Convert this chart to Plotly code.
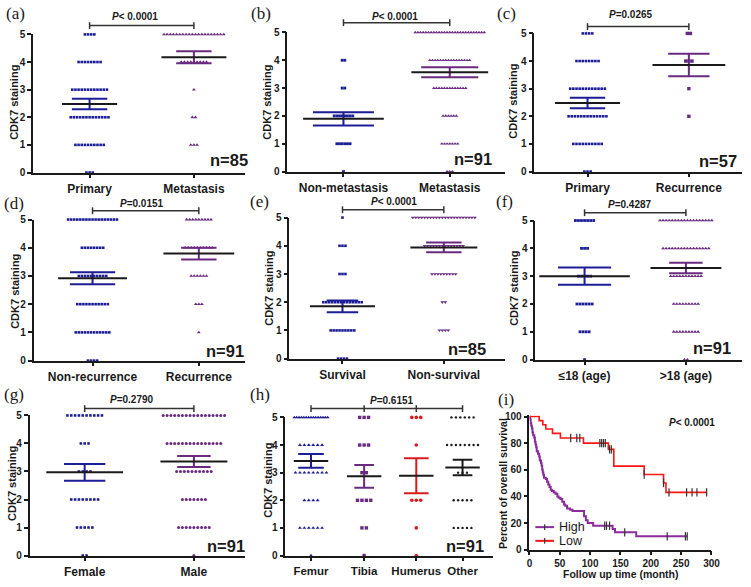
import numpy as np
import plotly.graph_objects as go

W, H = 751, 587

# ---------------- data ----------------
levels = [0, 1, 2, 3, 4, 5]   # CDK7 staining score

# number of cases at each staining score 0..5
a_primary = [3, 10, 13, 12, 8, 4]
a_metastasis = [0, 3, 2, 1, 9, 20]
b_nonmetastasis = [1, 6, 8, 2, 2, 0]
b_metastasis = [3, 7, 6, 13, 16, 27]
c_primary = [3, 10, 13, 12, 8, 4]
c_recurrence = [0, 0, 1, 1, 3, 2]
d_nonrecurrence = [4, 12, 11, 10, 8, 17]
d_recurrence = [0, 1, 3, 6, 10, 9]
e_survival = [4, 9, 14, 3, 3, 1]
e_nonsurvival = [0, 4, 2, 9, 14, 22]
f_le18 = [1, 4, 6, 5, 3, 7]
f_gt18 = [2, 9, 9, 11, 16, 18]
g_female = [2, 5, 8, 4, 3, 10]
g_male = [1, 9, 7, 10, 15, 17]
h_femur = [1, 6, 4, 8, 6, 15]
h_tibia = [1, 2, 4, 2, 3, 3]
h_humerus = [1, 1, 3, 0, 1, 3]
h_other = [0, 5, 5, 3, 8, 6]

p_values = ["<i>P</i>&lt; 0.0001", "<i>P</i>&lt; 0.0001", "<i>P</i>=0.0265",
            "<i>P</i>=0.0151", "<i>P</i>&lt; 0.0001", "<i>P</i>=0.4287",
            "<i>P</i>=0.2790", "<i>P</i>=0.6151"]
n_labels = ["n=85", "n=91", "n=57", "n=91", "n=85", "n=91", "n=91", "n=91"]

# Kaplan-Meier (i): step times (month) and percent survival
high_t = [0, 1, 2, 3, 4, 5, 6, 8, 9, 10, 11, 12, 14, 16, 17, 19, 20, 21, 22, 23, 24, 27, 29, 31,
          33, 35, 37, 40, 43, 46, 48, 51, 54, 57, 59, 62, 67, 71, 90, 93, 96, 105, 137, 141, 176, 260]
high_s = [100, 98, 95, 93, 91, 88, 86, 84, 81, 79, 77, 74, 72, 70, 67, 65, 63, 60, 58, 56, 54, 53, 51, 49,
          47, 45, 44, 43, 42, 40, 39, 38, 36, 34, 33, 31, 30, 29, 25, 22, 20, 18, 15.5, 13, 10, 10]
high_cens_t = [124, 127, 132, 157, 227, 257, 260]
high_cens_s = [18, 18, 18, 13, 10, 10, 10]
low_t = [0, 16, 22, 27, 38, 51, 89, 130, 139, 189, 221, 225, 292]
low_s = [100, 96.9, 93.8, 90.6, 87.3, 83.9, 80.0, 75.3, 62.7, 56.4, 50.1, 43.0, 43.0]
low_cens_t = [68, 78, 83, 116, 119, 122, 125, 132, 135, 189, 221, 230, 259, 268, 276, 292]
low_cens_s = [83.9, 83.9, 83.9, 80, 80, 80, 80, 75.3, 75.3, 56.4, 50.1, 43, 43, 43, 43, 43]

# ---------------- style ----------------
BLUE = "#1d1d95"
PURPLE = "#6a2a80"
RED = "#d91a1a"
DARK = "#1a1a1a"
SANS = "Liberation Sans"
SERIF = "Liberation Serif"

# geometry of each scatter panel, in pixels of the 751x587 figure
panels = [
    dict(lab="(a)", yax=30.5, xend=246, cats=[88, 194], y0=170, y5=29, by=20, pxy=(134, 11),
         lxy=(13, 8), nxy=(230, 157), txy=(11, 98), sp=3.2, maxw=70,
         groups=[("Primary", a_primary, BLUE, "square", 2.6, 28, 18),
                 ("Metastasis", a_metastasis, PURPLE, "triangle-up", 3.4, 33, 18)]),
    dict(lab="(b)", yax=289, xend=510, cats=[346, 454], y0=169, y5=27, by=17, pxy=(398, 11),
         lxy=(262, 8), nxy=(478, 156), txy=(268, 98), sp=2.7, maxw=72,
         groups=[("Non-metastasis", b_nonmetastasis, BLUE, "square", 2.8, 41, 31),
                 ("Metastasis", b_metastasis, PURPLE, "triangle-up", 3.2, 39, 29)]),
    dict(lab="(c)", yax=540, xend=751, cats=[594, 697], y0=169, y5=28, by=21, pxy=(638, 9),
         lxy=(512, 8), nxy=(727, 158), txy=(518, 97), sp=3.2, maxw=70,
         groups=[("Primary", c_primary, BLUE, "square", 2.6, 33, 18),
                 ("Recurrence", c_recurrence, PURPLE, "square", 3.4, 37, 21)]),
    dict(lab="(d)", yax=31, xend=246, cats=[91, 199], y0=362, y5=218, by=209, pxy=(141, 202),
         lxy=(11, 202), nxy=(226, 352), txy=(12, 291), sp=3.1, maxw=72,
         groups=[("Non-recurrence", d_nonrecurrence, BLUE, "square", 2.6, 35, 23),
                 ("Recurrence", d_recurrence, PURPLE, "triangle-up", 3.4, 36, 18)]),
    dict(lab="(e)", yax=291, xend=510, cats=[345, 448], y0=360, y5=216, by=208, pxy=(397, 200),
         lxy=(261, 200), nxy=(472, 350), txy=(270, 288), sp=3.0, maxw=70,
         groups=[("Survival", e_survival, BLUE, "square", 2.6, 33, 16),
                 ("Non-survival", e_nonsurvival, PURPLE, "triangle-down", 3.4, 34, 18)]),
    dict(lab="(f)", yax=541, xend=751, cats=[591, 694], y0=361, y5=219, by=211, pxy=(637, 203),
         lxy=(510, 200), nxy=(721, 349), txy=(519, 288), sp=3.1, maxw=72,
         groups=[("\u226418 (age)", f_le18, BLUE, "square", 2.8, 46, 27),
                 (">18 (age)", f_gt18, PURPLE, "triangle-up", 3.4, 36, 17)]),
    dict(lab="(g)", yax=27, xend=246, cats=[83, 194], y0=561, y5=418, by=411, pxy=(131, 402),
         lxy=(11, 397), nxy=(227, 551), txy=(9, 487), sp=3.9, maxw=70,
         groups=[("Female", g_female, BLUE, "square", 2.6, 39, 21),
                 ("Male", g_male, PURPLE, "circle", 3.0, 34, 17)]),
    dict(lab="(h)", yax=287, xend=498, cats=[313, 367, 420, 467], y0=561, y5=420, by=411, pxy=(395, 403),
         lxy=(261, 397), nxy=(470, 551), txy=(269, 484), sp=4.5, maxw=34,
         groups=[("Femur", h_femur, BLUE, "triangle-up", 3.4, 17.5, 13),
                 ("Tibia", h_tibia, PURPLE, "square", 3.4, 17.5, 10),
                 ("Humerus", h_humerus, RED, "circle", 3.6, 17.5, 12.5),
                 ("Other", h_other, DARK, "circle", 2.4, 17.5, 10)]),
]


def paper(xp, yp):
    return xp / W, 1 - yp / H


def b(s):
    return f"<b>{s}</b>"


fig = go.Figure()
layout = dict(width=W, height=H, margin=dict(l=0, r=0, t=0, b=0),
              paper_bgcolor="white", plot_bgcolor="white", showlegend=False)
annotations, shapes = [], []

axis_common = dict(showgrid=False, zeroline=False, showline=True, linecolor=DARK, linewidth=1.6,
                   ticks="outside", ticklen=4, tickwidth=1.5, tickcolor=DARK, fixedrange=True)


def text_ann(txt, xp, yp, size, family=SANS, angle=0, xanchor="center", color=DARK):
    x, y = paper(xp, yp)
    annotations.append(dict(text=txt, x=x, y=y, xref="paper", yref="paper", showarrow=False,
                            xanchor=xanchor, yanchor="middle", textangle=angle,
                            font=dict(family=family, size=size, color=color)))


def hline(x0, x1, y, color=DARK, width=1.5):
    a, bb = paper(x0, y)
    c, _ = paper(x1, y)
    shapes.append(dict(type="line", xref="paper", yref="paper", x0=a, x1=c, y0=bb, y1=bb,
                       line=dict(color=color, width=width)))


def vline(x, y0, y1, color=DARK, width=1.5):
    a, bb = paper(x, y0)
    _, d = paper(x, y1)
    shapes.append(dict(type="line", xref="paper", yref="paper", x0=a, x1=a, y0=bb, y1=d,
                       line=dict(color=color, width=width)))


for k, p in enumerate(panels, start=1):
    xn = "x" if k == 1 else f"x{k}"
    yn = "y" if k == 1 else f"y{k}"
    cats = p["cats"]
    unit = (cats[-1] - cats[0]) / (len(cats) - 1)
    centers = [(c - cats[0]) / unit for c in cats]
    xr = [(p["yax"] - cats[0]) / unit, (p["xend"] - cats[0]) / unit]

    for gi, (name, counts, color, sym, msize, mhw, shw) in enumerate(p["groups"]):
        cx = centers[gi]
        xs, ys = [], []
        for lv, cnt in zip(levels, counts):
            if cnt <= 0:
                continue
            s = p["sp"] if cnt == 1 else min(p["sp"], p["maxw"] / (cnt - 1))
            for i in range(cnt):
                xs.append(cx + (i - (cnt - 1) / 2) * s / unit)
                ys.append(lv)
        fig.add_trace(go.Scatter(x=xs, y=ys, xaxis=xn, yaxis=yn, mode="markers", cliponaxis=False,
                                 marker=dict(symbol=sym, size=msize, color=color, line=dict(width=0)),
                                 hoverinfo="skip"))
        vals = np.repeat(levels, counts)
        m = vals.mean()
        se = vals.std(ddof=1) / np.sqrt(len(vals))
        sw, mw = shw / unit, mhw / unit
        fig.add_trace(go.Scatter(x=[cx - sw, cx + sw, None, cx, cx, None, cx - sw, cx + sw],
                                 y=[m + se, m + se, None, m + se, m - se, None, m - se, m - se],
                                 xaxis=xn, yaxis=yn, mode="lines",
                                 line=dict(color=color, width=2), hoverinfo="skip"))
        fig.add_trace(go.Scatter(x=[cx - mw, cx + mw], y=[m, m], xaxis=xn, yaxis=yn, mode="lines",
                                 line=dict(color=DARK, width=2), hoverinfo="skip"))

    csize = 11.5 if len(cats) > 2 else 12
    layout["xaxis" if k == 1 else f"xaxis{k}"] = dict(
        axis_common, domain=[p["yax"] / W, p["xend"] / W], range=xr, anchor=yn,
        tickvals=centers, ticktext=[b(g[0]) for g in p["groups"]],
        tickfont=dict(family=SANS, size=csize, color=DARK))
    layout["yaxis" if k == 1 else f"yaxis{k}"] = dict(
        axis_common, domain=[1 - p["y0"] / H, 1 - p["y5"] / H], range=[0, 5], anchor=xn,
        tickvals=levels, ticktext=[b(v) for v in levels],
        tickfont=dict(family=SANS, size=10, color=DARK))

    # significance bracket
    by = p["by"]
    hline(cats[0], cats[-1], by, color="#333333", width=1.5)
    for c in cats:
        vline(c, by - 3.5, by + 3.5, color="#333333", width=1.5)
    text_ann(b(p_values[k - 1]), p["pxy"][0], p["pxy"][1], 10)
    text_ann(b(n_labels[k - 1]), p["nxy"][0], p["nxy"][1], 16.5)
    text_ann(p["lab"], p["lxy"][0], p["lxy"][1], 17, family=SERIF)
    text_ann(b("CDK7 staining"), p["txy"][0], p["txy"][1], 11, angle=-90)

# ---------------- panel (i): Kaplan-Meier ----------------
HIGHC = "#8a2c9c"
LOWC = "#ff1414"
fig.add_trace(go.Scatter(x=high_t, y=high_s, xaxis="x9", yaxis="y9", mode="lines", line_shape="hv",
                         line=dict(color=HIGHC, width=2), hoverinfo="skip"))
fig.add_trace(go.Scatter(x=low_t, y=low_s, xaxis="x9", yaxis="y9", mode="lines", line_shape="hv",
                         line=dict(color=LOWC, width=1.6), hoverinfo="skip"))
fig.add_trace(go.Scatter(x=high_cens_t, y=high_cens_s, xaxis="x9", yaxis="y9", mode="markers",
                         cliponaxis=False,
                         marker=dict(symbol="line-ns", size=6, line=dict(color="#333333", width=1.2)),
                         hoverinfo="skip"))
fig.add_trace(go.Scatter(x=low_cens_t, y=low_cens_s, xaxis="x9", yaxis="y9", mode="markers",
                         cliponaxis=False,
                         marker=dict(symbol="line-ns", size=6, line=dict(color="#333333", width=1.2)),
                         hoverinfo="skip"))
xt9 = [0, 50, 100, 150, 200, 250, 300]
yt9 = [0, 20, 40, 60, 80, 100]
layout["xaxis9"] = dict(axis_common, domain=[535 / W, 720 / W], range=[0, 300], anchor="y9",
                        tickvals=xt9, ticktext=[b(v) for v in xt9],
                        tickfont=dict(family=SANS, size=10, color=DARK))
layout["yaxis9"] = dict(axis_common, domain=[1 - 555 / H, 1 - 418 / H], range=[0, 100.8], anchor="x9",
                        tickvals=yt9, ticktext=[b(v) for v in yt9],
                        tickfont=dict(family=SANS, size=10, color=DARK))
text_ann("(i)", 511, 402, 17, family=SERIF)
text_ann(b("<i>P</i>&lt; 0.0001"), 675, 425, 10, xanchor="left")
text_ann(b("Follow up time (month)"), 628, 580, 10.5)
text_ann(b("Percent of overall survival"), 508, 487, 10.5, angle=-90)
# legend
for yy, col, lab in [(532, HIGHC, "High"), (546, LOWC, "Low")]:
    hline(541, 560, yy, color=col, width=2)
    vline(550.5, yy - 3, yy + 3, color="#333333", width=1.2)
    text_ann(lab, 563, yy, 12.5, xanchor="left")

layout["annotations"] = annotations
layout["shapes"] = shapes
fig.update_layout(**layout)
fig.write_html("out.html", config={"displayModeBar": False},
               post_script="document.body.style.margin='0';document.body.style.overflow='hidden';")
